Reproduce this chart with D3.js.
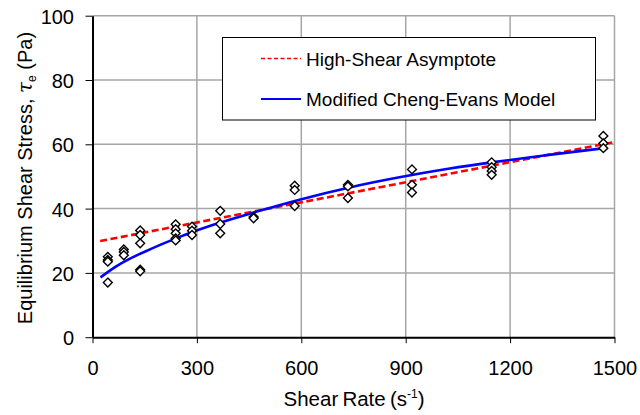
<!DOCTYPE html>
<html>
<head>
<meta charset="utf-8">
<script src="https://cdn.jsdelivr.net/npm/d3@7/dist/d3.min.js"></script>
<style>
  html, body { margin: 0; padding: 0; background: #fff; }
  svg { display: block; font-family: "Liberation Sans", Arial, sans-serif; }
</style>
</head>
<body>
<svg id="chart" width="640" height="415"></svg>
<script>
// ---- data ----
const shearRates = [44, 90, 137, 239, 286, 367, 463, 581, 734, 918, 1147, 1468];
const stressGroups = [
  [25.0, 24.0, 23.5, 17.0],
  [27.3, 26.5, 25.5],
  [33.2, 31.8, 29.2, 21.0, 20.5],
  [35.1, 33.6, 32.3, 30.7, 30.1],
  [34.4, 33.1, 31.8],
  [39.3, 35.2, 32.3],
  [37.4, 37.0],
  [47.1, 45.8, 40.8],
  [47.4, 46.9, 43.3],
  [52.2, 47.4, 45.0],
  [54.4, 52.9, 51.7, 50.5],
  [62.6, 60.3, 58.8]
];
const asymptoteX = [22, 1500];
const asymptoteY = [29.9, 60.7];
const modelX = [23, 64, 102, 150, 198, 245, 293, 341, 389, 466, 595, 739, 882, 1026, 1147, 1300, 1470];
const modelY = [18.6, 21.9, 24.2, 26.6, 28.9, 31.0, 33.0, 34.8, 36.4, 38.9, 42.9, 46.7, 49.8, 52.5, 54.4, 56.6, 58.8];
const xTicks = [0, 300, 600, 900, 1200, 1500];
const yTicks = [0, 20, 40, 60, 80, 100];
const legendLabels = ["High-Shear Asymptote", "Modified Cheng-Evans Model"];

// ---- layout ----
const svg = d3.select("#chart");
const pLeft = 92.5, pRight = 614.5, pTop = 15.7, pBottom = 337.2;
const x = d3.scaleLinear().domain([0, 1500]).range([pLeft, pRight]);
const y = d3.scaleLinear().domain([0, 100]).range([pBottom, pTop]);
const gridColor = "#a6a6a6";

// grid
const grid = svg.append("g");
grid.selectAll("line.v").data(xTicks.filter(d => d > 0)).join("line")
  .attr("x1", d => x(d)).attr("x2", d => x(d))
  .attr("y1", pTop).attr("y2", pBottom)
  .attr("stroke", gridColor).attr("stroke-width", 1.5);
grid.selectAll("line.h").data(yTicks.filter(d => d > 0)).join("line")
  .attr("x1", pLeft).attr("x2", pRight)
  .attr("y1", d => y(d)).attr("y2", d => y(d))
  .attr("stroke", gridColor).attr("stroke-width", 1.5);

// legend box (over grid)
const lg = svg.append("g");
lg.append("rect").attr("x", 222.5).attr("y", 37.5).attr("width", 373).attr("height", 82.5)
  .attr("fill", "#fff").attr("stroke", "#000").attr("stroke-width", 1);
const legendStyles = [
  {color: "#ff0000", dash: "4,2.5", w: 1.6, y: 58.5},
  {color: "#0000ff", dash: null, w: 2, y: 99}
];
legendLabels.forEach((lab, i) => {
  const s = legendStyles[i];
  lg.append("line").attr("x1", 261).attr("x2", 301).attr("y1", s.y).attr("y2", s.y)
    .attr("stroke", s.color).attr("stroke-width", s.w)
    .attr("stroke-dasharray", s.dash);
  lg.append("text").attr("x", 306).attr("y", s.y + 7)
    .attr("font-size", 19).attr("fill", "#000").text(lab);
});

// lines
const line = d3.line().x(d => x(d[0])).y(d => y(d[1]));
svg.append("path")
  .datum(asymptoteX.map((v, i) => [v, asymptoteY[i]]))
  .attr("d", line).attr("fill", "none")
  .attr("stroke", "#ff0000").attr("stroke-width", 2.6).attr("stroke-dasharray", "7,3.5");
svg.append("path")
  .datum(modelX.map((v, i) => [v, modelY[i]]))
  .attr("d", d3.line().x(d => x(d[0])).y(d => y(d[1])).curve(d3.curveBasis)).attr("fill", "none")
  .attr("stroke", "#0000ff").attr("stroke-width", 2.6);

// axes
const fmt = d3.format("d");
const xAxis = svg.append("g").attr("transform", `translate(0,${pBottom})`)
  .call(d3.axisBottom(x).tickValues(xTicks).tickFormat(fmt).tickSize(6).tickSizeOuter(0));
const yAxis = svg.append("g").attr("transform", `translate(${pLeft},0)`)
  .call(d3.axisLeft(y).tickValues(yTicks).tickFormat(fmt).tickSize(7).tickSizeOuter(0));
[xAxis, yAxis].forEach(g => {
  g.select(".domain").attr("stroke", "#000").attr("stroke-width", 2);
  g.selectAll(".tick line").attr("stroke", "#000").attr("stroke-width", 1);
  g.selectAll(".tick text").attr("font-size", 20).attr("fill", "#000")
    .attr("font-family", "'Liberation Sans', Arial, sans-serif");
});
xAxis.selectAll(".tick text").attr("y", 38).attr("dy", 0);
yAxis.selectAll(".tick text").attr("x", -18.5).attr("dy", 7.5);

// markers
const pts = [];
shearRates.forEach((r, i) => stressGroups[i].forEach(v => pts.push([r, v])));
const diamond = d3.symbol().type(d3.symbolDiamond2).size(50);
svg.append("g").selectAll("path").data(pts).join("path")
  .attr("transform", d => `translate(${x(d[0])},${y(d[1])})`)
  .attr("d", diamond)
  .attr("fill", "#fff").attr("stroke", "#000").attr("stroke-width", 1.4);

// axis titles
svg.append("text").attr("x", 354).attr("y", 406).attr("text-anchor", "middle")
  .attr("font-size", 20.5).attr("fill", "#000").attr("word-spacing", -1.5)
  .call(t => {
    t.append("tspan").text("Shear Rate (s");
    t.append("tspan").attr("font-size", 12).attr("dy", -8).text("-1");
    t.append("tspan").attr("dy", 8).text(")");
  });
svg.append("text").attr("transform", "translate(32,178) rotate(-90)")
  .attr("text-anchor", "middle").attr("font-size", 20).attr("fill", "#000")
  .call(t => {
    t.append("tspan").text("Equilibrium Shear Stress, ");
    t.append("tspan").attr("font-style", "italic").attr("font-family", "'DejaVu Serif', serif").text("τ");
    t.append("tspan").attr("font-size", 12).attr("dy", 4).text("e");
    t.append("tspan").attr("dy", -4).text(" (Pa)");
  });
</script>
</body>
</html>
